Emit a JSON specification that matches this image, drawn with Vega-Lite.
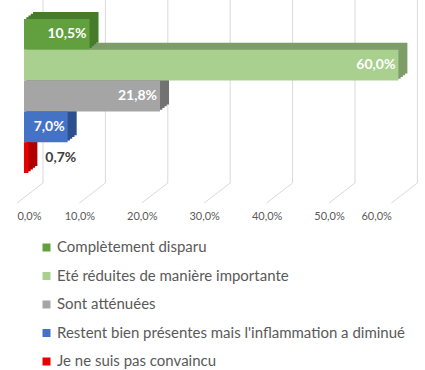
{
  "$schema": "https://vega.github.io/schema/vega-lite/v6.json",
  "width": 374.4,
  "height": 183,
  "autosize": "none",
  "padding": {"left": 24, "top": 0, "right": 27, "bottom": 187},
  "config": {
    "view": {"stroke": null},
    "font": "Lato",
    "locale": {"number": {"decimal": ",", "thousands": " ", "grouping": [3], "currency": ["", " €"]}}
  },
  "datasets": {
    "bars": [
      {"cat": "Complètement disparu", "v": 0.105},
      {"cat": "Eté réduites de manière importante", "v": 0.6},
      {"cat": "Sont atténuées", "v": 0.218},
      {"cat": "Restent bien présentes mais l'inflammation a diminué", "v": 0.07},
      {"cat": "Je ne suis pas convaincu", "v": 0.007}
    ],
    "ticks": [{"t": 0}, {"t": 0.1}, {"t": 0.2}, {"t": 0.3}, {"t": 0.4}, {"t": 0.5}, {"t": 0.6}]
  },
  "layer": [
    {
      "data": {"name": "ticks"},
      "mark": {"type": "rule", "xOffset": 19, "color": "#D9D9D9", "strokeWidth": 1},
      "encoding": {
        "x": {"field": "t", "type": "quantitative", "scale": {"domain": [0, 0.6], "nice": false, "zero": true},
          "axis": {"format": ".1%", "values": [0, 0.1, 0.2, 0.3, 0.4, 0.5, 0.6], "grid": false, "domain": false, "ticks": false, "offset": 20, "labelPadding": 8, "labelOffset": -7, "labelFontSize": 11, "labelColor": "#595959", "labelFont": "Lato", "title": null}}
      }
    },
    {
      "data": {"name": "ticks"},
      "mark": {"type": "rule", "xOffset": -7, "x2Offset": 19, "yOffset": 20, "y2Offset": 0, "color": "#D9D9D9", "strokeWidth": 1},
      "encoding": {
        "x": {"field": "t", "type": "quantitative"},
        "x2": {"field": "t"},
        "y": {"value": "height"},
        "y2": {"value": "height"}
      }
    },
    {
      "data": {"name": "bars"},
      "mark": {"type": "bar", "xOffset": 9, "yOffset": -7, "cornerRadius": 0},
      "encoding": {
        "y": {"field": "cat", "type": "nominal", "sort": ["Complètement disparu", "Eté réduites de manière importante", "Sont atténuées", "Restent bien présentes mais l'inflammation a diminué", "Je ne suis pas convaincu"], "scale": {"paddingInner": 0, "paddingOuter": 0.47, "align": 0.655}, "axis": null},
        "x": {"field": "v", "type": "quantitative"},
        "color": {"field": "cat", "type": "nominal",
          "scale": {"domain": ["Complètement disparu", "Eté réduites de manière importante", "Sont atténuées", "Restent bien présentes mais l'inflammation a diminué", "Je ne suis pas convaincu"],
                    "range": ["#477B2C", "#7E9D68", "#727272", "#2D4F8E", "#B00000"]},
          "legend": null}
      }
    },
    {
      "data": {"name": "bars"},
      "mark": {"type": "bar", "xOffset": 6.75, "yOffset": -5.25, "cornerRadius": 0},
      "encoding": {
        "y": {"field": "cat", "type": "nominal", "sort": ["Complètement disparu", "Eté réduites de manière importante", "Sont atténuées", "Restent bien présentes mais l'inflammation a diminué", "Je ne suis pas convaincu"]},
        "x": {"field": "v", "type": "quantitative"},
        "color": {"field": "cat", "type": "nominal", "legend": null}
      }
    },
    {
      "data": {"name": "bars"},
      "mark": {"type": "bar", "xOffset": 4.5, "yOffset": -3.5, "cornerRadius": 0},
      "encoding": {
        "y": {"field": "cat", "type": "nominal", "sort": ["Complètement disparu", "Eté réduites de manière importante", "Sont atténuées", "Restent bien présentes mais l'inflammation a diminué", "Je ne suis pas convaincu"]},
        "x": {"field": "v", "type": "quantitative"},
        "color": {"field": "cat", "type": "nominal", "legend": null}
      }
    },
    {
      "data": {"name": "bars"},
      "mark": {"type": "bar", "xOffset": 2.25, "yOffset": -1.75, "cornerRadius": 0},
      "encoding": {
        "y": {"field": "cat", "type": "nominal", "sort": ["Complètement disparu", "Eté réduites de manière importante", "Sont atténuées", "Restent bien présentes mais l'inflammation a diminué", "Je ne suis pas convaincu"]},
        "x": {"field": "v", "type": "quantitative"},
        "color": {"field": "cat", "type": "nominal", "legend": null}
      }
    },
    {
      "data": {"name": "bars"},
      "mark": {"type": "bar", "cornerRadius": 0},
      "encoding": {
        "y": {"field": "cat", "type": "nominal", "sort": ["Complètement disparu", "Eté réduites de manière importante", "Sont atténuées", "Restent bien présentes mais l'inflammation a diminué", "Je ne suis pas convaincu"]},
        "x": {"field": "v", "type": "quantitative"},
        "fill": {"field": "cat", "type": "nominal",
          "scale": {"domain": ["Complètement disparu", "Eté réduites de manière importante", "Sont atténuées", "Restent bien présentes mais l'inflammation a diminué", "Je ne suis pas convaincu"],
                    "range": ["#62A03F", "#A9D08E", "#A5A5A5", "#4472C4", "#E80000"]},
          "legend": {"orient": "none", "legendX": 15, "legendY": 240, "direction": "vertical", "title": null,
            "symbolType": "square", "symbolSize": 64, "symbolStrokeWidth": 0, "labelFontSize": 15, "labelColor": "#595959",
            "labelFont": "Lato", "rowPadding": 12.5, "labelOffset": 3, "labelLimit": 400}}
      }
    },
    {
      "data": {"name": "bars"},
      "transform": [{"filter": "datum.v > 0.05"}],
      "mark": {"type": "text", "align": "right", "baseline": "middle", "dx": -3, "color": "#FFFFFF", "fontWeight": "bold", "fontSize": 14, "font": "Lato"},
      "encoding": {
        "y": {"field": "cat", "type": "nominal", "sort": ["Complètement disparu", "Eté réduites de manière importante", "Sont atténuées", "Restent bien présentes mais l'inflammation a diminué", "Je ne suis pas convaincu"]},
        "x": {"field": "v", "type": "quantitative"},
        "text": {"field": "v", "type": "quantitative", "format": ".1%"}
      }
    },
    {
      "data": {"name": "bars"},
      "transform": [{"filter": "datum.v <= 0.05"}],
      "mark": {"type": "text", "align": "left", "baseline": "middle", "dx": 17, "color": "#404040", "fontWeight": "bold", "fontSize": 14, "font": "Lato"},
      "encoding": {
        "y": {"field": "cat", "type": "nominal", "sort": ["Complètement disparu", "Eté réduites de manière importante", "Sont atténuées", "Restent bien présentes mais l'inflammation a diminué", "Je ne suis pas convaincu"]},
        "x": {"field": "v", "type": "quantitative"},
        "text": {"field": "v", "type": "quantitative", "format": ".1%"}
      }
    }
  ],
  "resolve": {"scale": {"fill": "independent"}}
}
